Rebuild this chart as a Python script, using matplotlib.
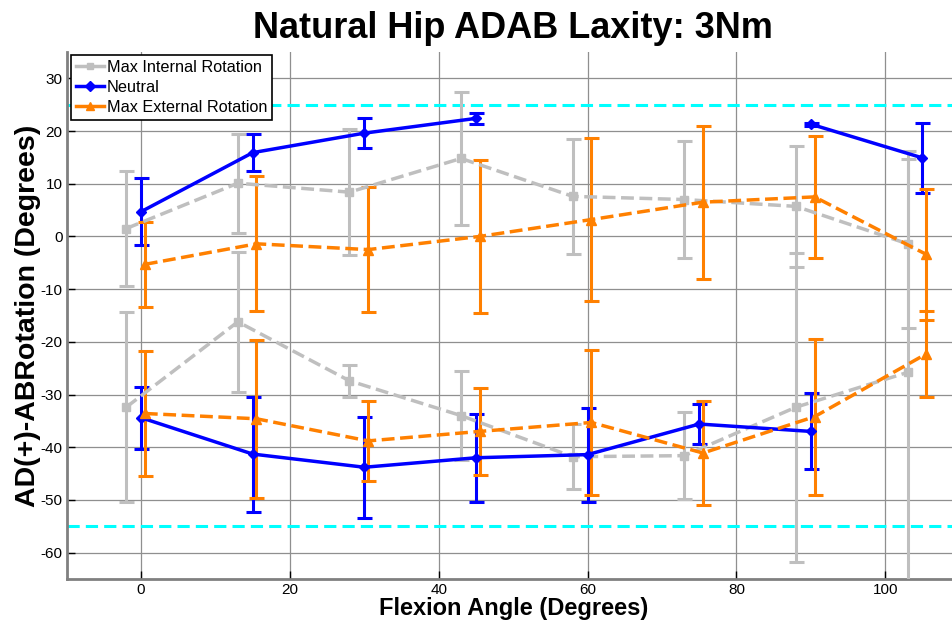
#Natural Hip ADAB Laxity - Fehlerbalken Diagramm

import numpy as np
import matplotlib
matplotlib.use('Agg')
import matplotlib.pyplot as plt
from matplotlib.lines import Line2D

plt.rcParams['font.family'] = ['Liberation Sans', 'DejaVu Sans']
plt.rcParams['axes.unicode_minus'] = False

#Daten: Flexionswinkel (x) fuer jede Serie
x_internal = [-2, 13, 28, 43, 58, 73, 88, 103]
x_neutral = [0, 15, 30, 45, 60, 75, 90, 105]
x_external = [0.5, 15.5, 30.5, 45.5, 60.5, 75.5, 90.5, 105.5]

#Max Internal Rotation (AD oben, AB unten)
int_ad = [1.5, 10.1, 8.4, 14.8, 7.6, 7.0, 5.7, -1.4]
int_ad_err = [11.0, 9.4, 12.0, 12.7, 10.9, 11.1, 11.5, 16.0]
int_ab = [-32.4, -16.2, -27.4, -34.0, -41.8, -41.6, -32.4, -25.8]
int_ab_err = [18.0, 13.3, 3.0, 8.4, 6.2, 8.3, 29.3, 42.1]

#Neutral (Luecke bei 60 und 75 oben, kein Wert bei 105 unten)
neu_ad = [4.7, 15.9, 19.6, 22.4, np.nan, np.nan, 21.3, 14.9]
neu_ad_err = [6.3, 3.5, 2.8, 1.0, np.nan, np.nan, 0.3, 6.6]
neu_ab = [-34.4, -41.3, -43.8, -42.0, -41.4, -35.6, -37.0, np.nan]
neu_ab_err = [5.9, 10.9, 9.6, 8.3, 8.9, 3.8, 7.2, np.nan]

#Max External Rotation
ext_ad = [-5.3, -1.4, -2.5, 0.0, 3.2, 6.5, 7.5, -3.4]
ext_ad_err = [8.0, 12.8, 11.9, 14.5, 15.5, 14.5, 11.5, 12.4]
ext_ab = [-33.6, -34.6, -38.8, -37.0, -35.3, -41.1, -34.2, -22.3]
ext_ab_err = [11.8, 15.0, 7.6, 8.2, 13.8, 9.9, 14.8, 8.2]

limits = [25, -55] #Grenzlinien

gray = (0.75, 0.75, 0.75)
blue = (0, 0, 1)
orange = (1, 0.5, 0)

fig = plt.figure(figsize=(9.53, 6.27), dpi=100)
ax = fig.add_axes([0.070, 0.0766, 0.937, 0.8405])

series = [
    (x_internal, int_ad, int_ad_err, int_ab, int_ab_err, gray, '--', 's', 6),
    (x_neutral, neu_ad, neu_ad_err, neu_ab, neu_ab_err, blue, '-', 'D', 5.5),
    (x_external, ext_ad, ext_ad_err, ext_ab, ext_ab_err, orange, '--', '^', 7),
]

for xs, ad, ad_err, ab, ab_err, c, ls, mk, ms in series:
    for ys, es in [(ad, ad_err), (ab, ab_err)]:
        ax.errorbar(xs, ys, yerr=es, color=c, ls=ls, lw=2.5, marker=mk,
                    ms=ms, mec=c, mfc=c, elinewidth=2.2, capsize=5.4,
                    capthick=2.2, zorder=3)

for v in limits:
    ax.axhline(v, color=(0, 1, 1), ls='--', lw=2.2, dashes=(4, 2), zorder=2)

ax.set_xlim(-10, 110)
ax.set_ylim(-65, 35)
ax.set_xticks(np.arange(0, 101, 20))
ax.set_yticks(np.arange(-60, 31, 10))
ax.grid(True, color='#8f8f8f', lw=0.9, zorder=1)
ax.set_axisbelow(True)
ax.tick_params(direction='in', length=6, width=1, colors='black',
               labelsize=11, pad=3)
for s in ['top', 'right']:
    ax.spines[s].set_visible(False)
for s in ['left', 'bottom']:
    ax.spines[s].set_color('#808080')
    ax.spines[s].set_linewidth(2)

ax.set_title('Natural Hip ADAB Laxity: 3Nm', fontsize=26, fontweight='bold', pad=10)
ax.set_xlabel('Flexion Angle (Degrees)', fontsize=17, fontweight='bold', labelpad=0)
ax.set_ylabel('AD(+)-ABRotation (Degrees)', fontsize=20.5, fontweight='bold', labelpad=0)

handles = [
    Line2D([], [], color=gray, lw=2.5, marker='s', ms=5),
    Line2D([], [], color=blue, lw=2.5, marker='D', ms=5),
    Line2D([], [], color=orange, lw=2.5, marker='^', ms=6),
]
labels = ['Max Internal Rotation', 'Neutral', 'Max External Rotation']
leg = ax.legend(handles, labels, loc='upper left', bbox_to_anchor=(0.005, 0.994),
                borderaxespad=0, fontsize=11.7, fancybox=False, framealpha=1,
                edgecolor='black', handlelength=1.7, handletextpad=0.2,
                labelspacing=0.3, borderpad=0.3)
leg.get_frame().set_linewidth(1.2)

plt.savefig('out.png', dpi=100)
